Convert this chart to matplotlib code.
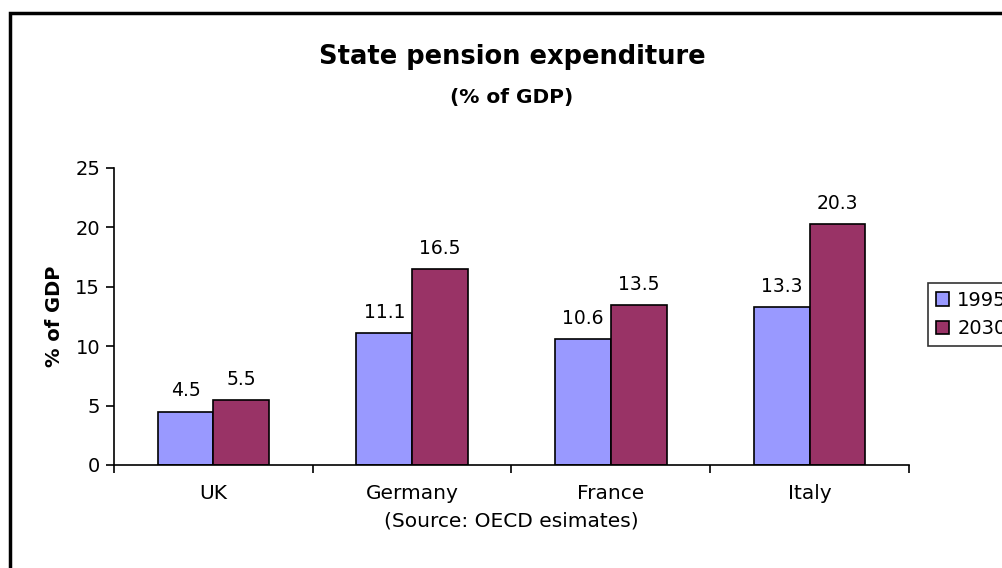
import matplotlib.pyplot as plt
from matplotlib.patches import Rectangle
import numpy as np

countries = ['UK', 'Germany', 'France', 'Italy']
years = ['1995', '2030']
vals_1995 = [4.5, 11.1, 10.6, 13.3]
vals_2030 = [5.5, 16.5, 13.5, 20.3]
colors = ['#9999FF', '#993366']

plt.rcParams['font.family'] = 'DejaVu Sans'

fig = plt.figure(figsize=(10.03, 5.68), dpi=100)
ax = fig.add_axes([114 / 1003, 1 - 465 / 568, (909 - 114) / 1003, (465 - 168) / 568])

x = np.arange(len(countries))
w = 0.28
b1 = ax.bar(x - w / 2, vals_1995, w, color=colors[0], edgecolor='black', lw=1.2, label=years[0])
b2 = ax.bar(x + w / 2, vals_2030, w, color=colors[1], edgecolor='black', lw=1.2, label=years[1])

for bars, vals in [(b1, vals_1995), (b2, vals_2030)]:
    for r, v in zip(bars, vals):
        ax.annotate('%.1f' % v, (r.get_x() + r.get_width() / 2, v),
                    xytext=(0, 8), textcoords='offset points',
                    ha='center', va='bottom', fontsize=13.5)

ax.set_xlim(-0.5, 3.5)
ax.set_ylim(0, 25)
ax.set_yticks(range(0, 26, 5))
ax.set_xticks(np.arange(-0.5, 4, 1))
ax.set_xticklabels([])
ax.set_xticks(x, minor=True)
ax.set_xticklabels(countries, minor=True, fontsize=14.5)
ax.tick_params(axis='x', which='minor', length=0, pad=14)
ax.tick_params(axis='x', which='major', direction='out', length=6, width=1.2)
ax.tick_params(axis='y', direction='out', length=6, width=1.2, labelsize=14, pad=4)
for s in ['top', 'right']:
    ax.spines[s].set_visible(False)
for s in ['left', 'bottom']:
    ax.spines[s].set_linewidth(1.2)

ax.set_ylabel('% of GDP', fontsize=14, fontweight='bold', labelpad=8)
ax.set_xlabel('(Source: OECD esimates)', fontsize=14.5, labelpad=6)

fig.text(512 / 1003, 1 - 57 / 568, 'State pension expenditure', ha='center', va='center',
         fontsize=18.5, fontweight='bold')
fig.text(512 / 1003, 1 - 97 / 568, '(% of GDP)', ha='center', va='center',
         fontsize=14.5, fontweight='bold')

leg = fig.legend(loc='upper left', bbox_to_anchor=(928 / 1003, 1 - 283 / 568),
                 fontsize=14, frameon=True, fancybox=False, edgecolor='black',
                 handlelength=0.7, handleheight=0.7, handletextpad=0.4,
                 borderpad=0.4, labelspacing=0.5, borderaxespad=0)
leg.get_frame().set_linewidth(1.2)

# outer chart border, runs off the right and bottom edges
fig.patches.append(Rectangle((10 / 1003, -0.1), 1.2, 1 - 13 / 568 + 0.1,
                             transform=fig.transFigure, fill=False,
                             edgecolor='black', lw=2.5, clip_on=False))

fig.savefig('out.png', dpi=100)
